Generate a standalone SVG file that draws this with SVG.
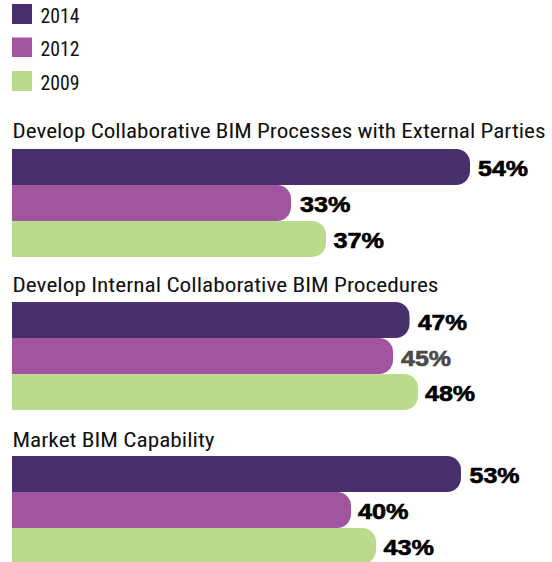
<svg xmlns="http://www.w3.org/2000/svg" width="552" height="562" viewBox="0 0 552 562">
<style>
.lg{font-family:"Liberation Sans Narrow","Roboto Condensed","DejaVu Sans Condensed","Liberation Sans",sans-serif;font-size:21px;fill:#111}
.tt{font-family:"Liberation Sans Narrow","Roboto Condensed","DejaVu Sans Condensed","Liberation Sans",sans-serif;font-size:20px;fill:#111}
.pc{font-family:"Liberation Sans","Arial",sans-serif;font-weight:bold;font-size:21.5px;fill:#000;stroke:#000;stroke-width:0.6}
.pg{fill:#4a4a4a;stroke:#4a4a4a}
.c14{fill:#47306b}
.c12{fill:#a1559f}
.c09{fill:#badb8b}
</style>
<rect width="552" height="562" fill="#fff"/>
<g id="legend">
<rect class="c14" x="12" y="4" width="20" height="20"/>
<text class="lg" x="40.5" y="23" textLength="39" lengthAdjust="spacingAndGlyphs">2014</text>
<rect class="c12" x="12" y="37.5" width="20" height="19.5"/>
<text class="lg" x="40.5" y="56" textLength="39" lengthAdjust="spacingAndGlyphs">2012</text>
<rect class="c09" x="12" y="71" width="20" height="20"/>
<text class="lg" x="40.5" y="89.5" textLength="39" lengthAdjust="spacingAndGlyphs">2009</text>
</g>
<g id="group1">
<text class="tt" x="12.5" y="138" textLength="533" lengthAdjust="spacingAndGlyphs">Develop Collaborative BIM Processes with External Parties</text>
<path class="c14" d="M12,149 H456 A14,14 0 0 1 470,163 V171 A14,14 0 0 1 456,185 H12 Z"/>
<path class="c12" d="M12,185 H277 A14,14 0 0 1 291,199 V207 A14,14 0 0 1 277,221 H12 Z"/>
<path class="c09" d="M12,221 H312 A14,14 0 0 1 326,235 V243 A14,14 0 0 1 312,257 H12 Z"/>
<text class="pc" x="478" y="176" textLength="50" lengthAdjust="spacingAndGlyphs">54%</text>
<text class="pc" x="300" y="212" textLength="50.5" lengthAdjust="spacingAndGlyphs">33%</text>
<text class="pc" x="333.5" y="248" textLength="50.5" lengthAdjust="spacingAndGlyphs">37%</text>
</g>
<g id="group2">
<text class="tt" x="12.5" y="292" textLength="426" lengthAdjust="spacingAndGlyphs">Develop Internal Collaborative BIM Procedures</text>
<path class="c14" d="M12,302 H395.5 A14,14 0 0 1 409.5,316 V324 A14,14 0 0 1 395.5,338 H12 Z"/>
<path class="c12" d="M12,338 H379 A14,14 0 0 1 393,352 V360 A14,14 0 0 1 379,374 H12 Z"/>
<path class="c09" d="M12,374 H404 A14,14 0 0 1 418,388 V396 A14,14 0 0 1 404,410 H12 Z"/>
<text class="pc" x="418" y="330" textLength="49" lengthAdjust="spacingAndGlyphs">47%</text>
<text class="pc pg" x="401" y="365.5" textLength="50" lengthAdjust="spacingAndGlyphs">45%</text>
<text class="pc" x="425" y="401" textLength="50" lengthAdjust="spacingAndGlyphs">48%</text>
</g>
<g id="group3">
<text class="tt" x="12.5" y="447" textLength="202" lengthAdjust="spacingAndGlyphs">Market BIM Capability</text>
<path class="c14" d="M12,456 H447 A14,14 0 0 1 461,470 V478 A14,14 0 0 1 447,492 H12 Z"/>
<path class="c12" d="M12,492 H337 A14,14 0 0 1 351,506 V514 A14,14 0 0 1 337,528 H12 Z"/>
<path class="c09" d="M12,528 H362 A14,14 0 0 1 376,542 V550 A14,14 0 0 1 362,564 H12 Z"/>
<text class="pc" x="469.5" y="483" textLength="50" lengthAdjust="spacingAndGlyphs">53%</text>
<text class="pc" x="358" y="519" textLength="50.5" lengthAdjust="spacingAndGlyphs">40%</text>
<text class="pc" x="383.5" y="555" textLength="50.5" lengthAdjust="spacingAndGlyphs">43%</text>
</g>
<g id="connectors"/>
</svg>
